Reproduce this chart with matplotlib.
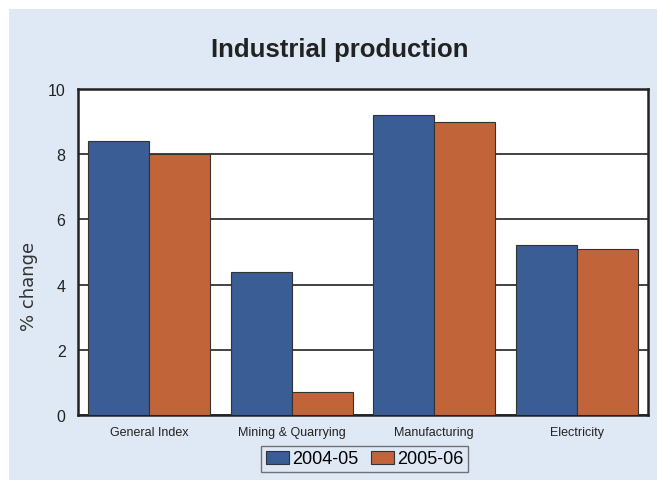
import matplotlib.pyplot as plt
import numpy as np
from matplotlib.patches import Rectangle

categories = ['General Index', 'Mining & Quarrying', 'Manufacturing', 'Electricity']
fy2005 = [8.4, 4.4, 9.2, 5.2]
fy2006 = [8.0, 0.7, 9.0, 5.1]
series_names = ['2004-05', '2005-06']

blue = '#3A5D96'
orange = '#C1643A'
panel = '#DFE9F5'

plt.rcParams['font.family'] = ['Liberation Sans', 'DejaVu Sans']

fig = plt.figure(figsize=(6.57, 4.81), dpi=100)
fig.patch.set_facecolor('white')
fig.patches.append(Rectangle((9 / 657, 0), 1, 1 - 10 / 481, transform=fig.transFigure,
                             facecolor=panel, edgecolor='none', zorder=-1))

ax = fig.add_axes([78 / 657, 1 - 416 / 481, 570 / 657, 326 / 481])
ax.set_facecolor('white')

x = np.arange(len(categories))
w = 0.428
ax.bar(x - w / 2, fy2005, w, color=blue, edgecolor='#333333', linewidth=0.8,
       label=series_names[0], zorder=3)
ax.bar(x + w / 2, fy2006, w, color=orange, edgecolor='#333333', linewidth=0.8,
       label=series_names[1], zorder=3)

ax.set_xlim(-0.5, 3.5)
ax.set_ylim(0, 10)
ax.set_yticks([0, 2, 4, 6, 8, 10])
ax.yaxis.grid(True, color='#222222', linewidth=1.2)
ax.set_axisbelow(True)
ax.tick_params(axis='y', length=0, labelsize=11.5, pad=9, colors='#222222')
ax.tick_params(axis='x', length=0, labelsize=9, pad=8, colors='#222222')
ax.set_xticks(x)
ax.set_xticklabels(categories)
for s in ax.spines.values():
    s.set_linewidth(1.8)
    s.set_color('#222222')

ax.set_ylabel('% change', fontsize=13, family='DejaVu Sans', color='#333333')
ax.yaxis.set_label_coords(-0.07, 0.396)
fig.text(340 / 657, 1 - 50 / 481, 'Industrial production', ha='center', va='center',
         fontsize=18.5, fontweight='bold', color='#222222')

leg = ax.legend(loc='center', bbox_to_anchor=(364.5 / 657, 1 - 460 / 481),
                bbox_transform=fig.transFigure, ncol=2, fontsize=13,
                frameon=True, fancybox=False, handlelength=1.3, handleheight=0.7,
                handletextpad=0.15, columnspacing=0.7, borderpad=0.25,
                borderaxespad=0)
leg.get_frame().set_edgecolor('#555555')
leg.get_frame().set_linewidth(1.0)
leg.get_frame().set_facecolor(panel)

fig.savefig('out.png', dpi=100)
